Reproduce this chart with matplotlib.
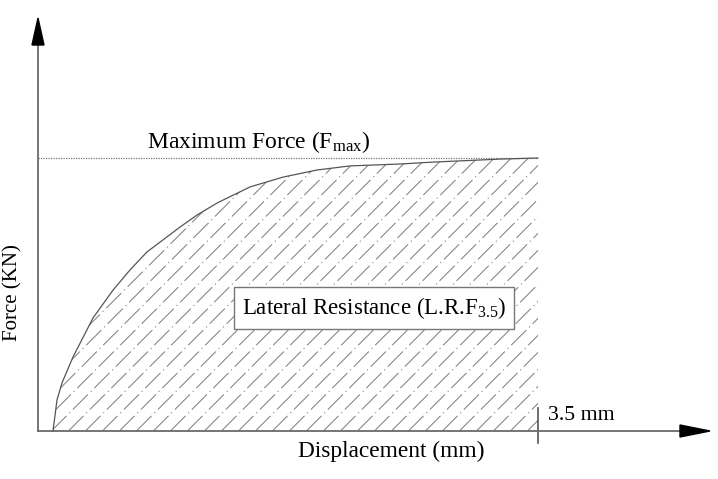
import numpy as np
import matplotlib.pyplot as plt
from matplotlib.patches import Polygon

plt.rcParams['font.family'] = 'Liberation Serif'
plt.rcParams['mathtext.fontset'] = 'custom'
plt.rcParams['mathtext.rm'] = 'Liberation Serif'
plt.rcParams['mathtext.it'] = 'Liberation Serif'

# load-displacement curve (force normalised to Fmax)
disp = [0.105, 0.133, 0.168, 0.245, 0.385, 0.525, 0.644, 0.763, 0.875, 0.994,
        1.113, 1.253, 1.484, 1.715, 1.953, 2.184, 2.534, 2.765, 3.234, 3.5]
force = [0.0, 0.114, 0.176, 0.271, 0.414, 0.516, 0.590, 0.656, 0.700, 0.747,
         0.791, 0.835, 0.894, 0.930, 0.956, 0.971, 0.978, 0.985, 0.996, 1.0]
f_max = 1.0
d_end = 3.5

# pixel scale of the drawing
sx = 142.86   # px per mm
sy = 273.0    # px per unit force
x0_px, y0_px = 38, 431
W, H = 718, 479

fig = plt.figure(figsize=(W / 100, H / 100), dpi=100)
ax = fig.add_axes([0, 0, 1, 1])
ax.set_xlim(-x0_px / sx, (W - x0_px) / sx)
ax.set_ylim(-(H - y0_px) / sy, y0_px / sy)
ax.axis('off')

axis_col = '#6a6a6a'

# axes with arrows
ax.plot([0, (680 - x0_px) / sx], [0, 0], color=axis_col, lw=1.3, zorder=3)
ax.plot([0, 0], [0, (y0_px - 45) / sy], color=axis_col, lw=1.3, zorder=3)
ax.add_patch(Polygon([[(680 - x0_px) / sx, 6 / sy], [(710 - x0_px) / sx, 0],
                      [(680 - x0_px) / sx, -6 / sy]], closed=True, color='black', zorder=4))
ax.add_patch(Polygon([[-6 / sx, (y0_px - 45) / sy], [0, (y0_px - 18) / sy],
                      [6 / sx, (y0_px - 45) / sy]], closed=True, color='black', zorder=4))

# Fmax dotted line
ax.plot([0, d_end], [f_max, f_max], color='#777777', lw=0.9, ls=(0, (1, 1)))

# curve and hatched area
ax.plot(disp, force, color='#555555', lw=0.9, zorder=3)
poly = Polygon(list(zip(disp, force)) + [(d_end, 0), (disp[0], 0)], closed=True,
               facecolor='white', edgecolor='none')
ax.add_patch(poly)
slope = sx / sy
for off in np.arange(-3.0, 3.6, 17 / sx):
    xs = np.array([off, off + 3.0])
    ln, = ax.plot(xs, slope * (xs - off), color='#7a7a7a', lw=0.7,
                  dashes=(22, 4, 1.2, 4))
    ln.set_clip_path(poly)

# 3.5 mm marker
ax.plot([d_end, d_end], [(y0_px - 408) / sy, (y0_px - 443) / sy], color='#555555', lw=1.2)
ax.text(d_end + 10 / sx, (y0_px - 416) / sy, '3.5 mm', fontsize=15.7, va='center', ha='left')

ax.text((147 - x0_px) / sx, (y0_px - 142) / sy, r'Maximum Force (F$_{\mathrm{max}}$)',
        fontsize=17, va='center', ha='left')

ax.text((374 - x0_px) / sx, (y0_px - 308) / sy, r'Lateral Resistance (L.R.F$_{3.5}$)',
        fontsize=16.5, va='center', ha='center', zorder=5,
        bbox=dict(boxstyle='square,pad=0.35', fc='white', ec='#777777', lw=1.0))

ax.text((391 - x0_px) / sx, (y0_px - 451) / sy, 'Displacement (mm)', fontsize=16.8,
        va='center', ha='center')
ax.text((13 - x0_px) / sx, (y0_px - 293) / sy, 'Force (KN)', fontsize=15,
        va='center', ha='center', rotation=90)

fig.savefig('out.png', dpi=100)
